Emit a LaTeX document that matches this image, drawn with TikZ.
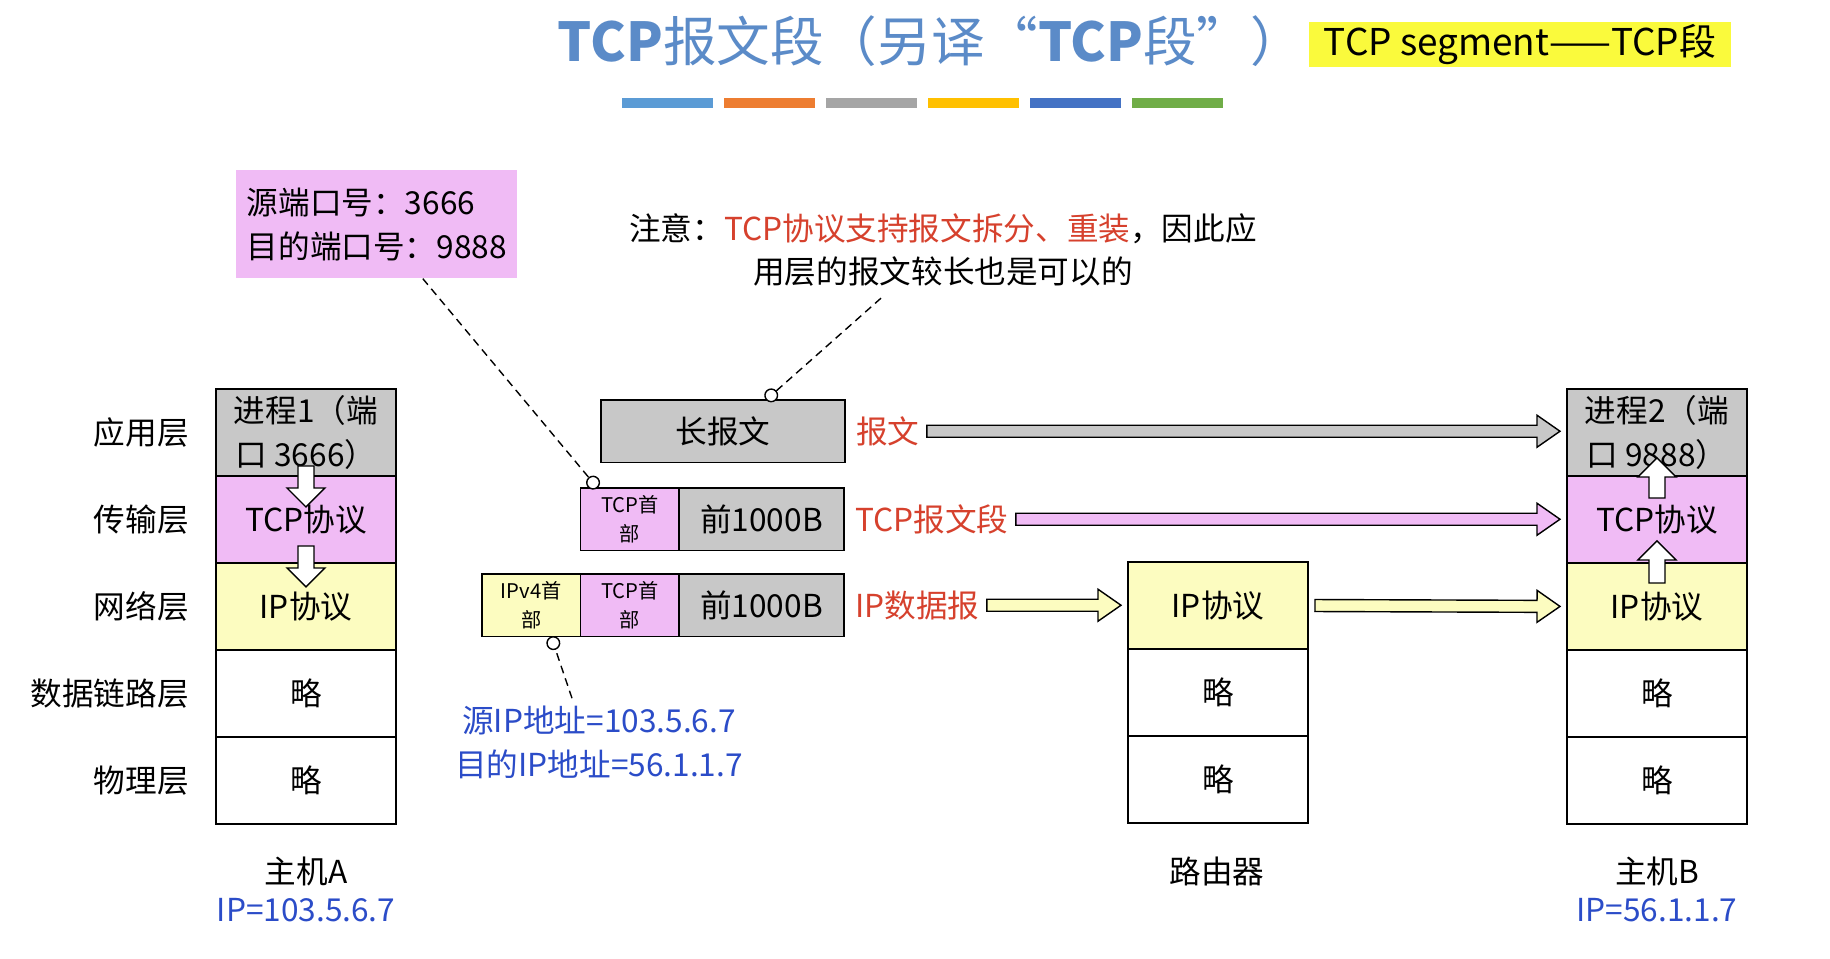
\documentclass[tikz,border=0pt]{standalone}
\usepackage{fontspec}
\setmainfont{Noto Sans CJK SC}
\usepackage{xcolor}
\usetikzlibrary{arrows.meta, positioning, calc}

\definecolor{boxgray}  {RGB}{200,200,200}
\definecolor{tcppink}  {RGB}{240,187,245}
\definecolor{ipyellow} {RGB}{252,252,192}
\definecolor{titleblue}{RGB}{ 91,139,200}
\definecolor{notered}  {RGB}{214, 65, 45}
\definecolor{addrblue} {RGB}{ 43, 76,200}
\definecolor{hlyellow} {RGB}{250,250, 60}
\definecolor{barblue}  {RGB}{ 91,155,213}
\definecolor{barorange}{RGB}{237,125, 49}
\definecolor{bargray}  {RGB}{165,165,165}
\definecolor{bargold}  {RGB}{255,192,  0}
\definecolor{bardblue} {RGB}{ 68,114,196}
\definecolor{bargreen} {RGB}{112,173, 71}

\newcommand{\midsz}{\fontsize{18}{25}\selectfont}
\newcommand{\smlsz}{\fontsize{11.5}{17}\selectfont}
\newcommand{\fashaft}{0.12cm}
\newcommand{\fawing}{0.32cm}
\newcommand{\fahead}{0.46cm}
% hollow block arrow: [gap]{fill}{from}{to}
\newcommand{\fatarrow}[4][0.14cm]{%
  \coordinate (fa-s) at ($(#3)!#1!(#4)$);
  \coordinate (fa-e) at ($(#4)!#1!(#3)$);
  \coordinate (fa-b) at ($(fa-e)!\fahead!(fa-s)$);
  \filldraw[fill=#2, line width=0.8pt, line join=miter]
    ($(fa-s)!\fashaft!90:(fa-e)$) -- ($(fa-b)!\fashaft!-90:(fa-s)$)
    -- ($(fa-b)!\fawing!-90:(fa-s)$) -- (fa-e)
    -- ($(fa-b)!\fawing!90:(fa-s)$) -- ($(fa-b)!\fashaft!90:(fa-s)$)
    -- ($(fa-s)!\fashaft!-90:(fa-e)$) -- cycle;
}

\begin{document}
\begin{tikzpicture}[x=0.02cm, y=-0.02cm,
  layer/.style={rectangle, draw, line width=0.8pt, outer sep=0pt,
    minimum width=3.6cm, minimum height=1.74cm, inner sep=1pt,
    font=\midsz, align=center},
  blk/.style={rectangle, draw, line width=0.8pt, outer sep=0pt,
    minimum height=1.25cm, inner sep=1pt, font=\midsz, align=center},
  hdr/.style={blk, minimum width=1.97cm, font=\smlsz},
  lbl/.style={font=\midsz, inner sep=0pt},
  redlbl/.style={lbl, text=notered, anchor=west},
  addr/.style={lbl, text=addrblue, align=center},
  callout/.style={line width=0.8pt, dash pattern=on 4.5pt off 3pt,
    -{Circle[fill=white, length=0.28cm]}}
]
  \useasboundingbox (0,0) rectangle (1830,959);
  \fill[white] (0,0) rectangle (1830,959);

  % Title
  \node[font=\fontsize{30.5}{36}\selectfont, text=titleblue] (title) at (931,41)
    {\textbf{TCP}报文段（另译“\textbf{TCP}段”）};
  \node[fill=hlyellow, font=\fontsize{21}{24}\selectfont, inner sep=0pt,
    minimum width=8.44cm, minimum height=0.9cm] (segdef) at (1520,45)
    {TCP segment——TCP段};
  \foreach \c [count=\i] in {barblue,barorange,bargray,bargold,bardblue,bargreen}
    \fill[\c] ({520+102*\i},98) rectangle ++(91,10);

  % Host A
  \node[layer, fill=boxgray, anchor=north west] (A-app) at (216,389)
    {进程1（端\\口 3666）};
  \node[layer, fill=tcppink,  below=0pt of A-app]  (A-tcp)  {TCP协议};
  \node[layer, fill=ipyellow, below=0pt of A-tcp]  (A-ip)   {IP协议};
  \node[layer,                below=0pt of A-ip]   (A-link) {略};
  \node[layer,                below=0pt of A-link] (A-phy)  {略};
  \node[lbl, left=0.54cm of A-app]  (L-app)  {应用层};
  \node[lbl, left=0.54cm of A-tcp]  (L-tcp)  {传输层};
  \node[lbl, left=0.54cm of A-ip]   (L-ip)   {网络层};
  \node[lbl, left=0.54cm of A-link] (L-link) {数据链路层};
  \node[lbl, left=0.54cm of A-phy]  (L-phy)  {物理层};
  \node[lbl]  (A-name) at (306,871) {主机A};
  \node[addr] (A-addr) at (306,910) {IP=103.5.6.7};

  % Router
  \node[layer, fill=ipyellow, anchor=north west] (R-ip) at (1128,562) {IP协议};
  \node[layer, below=0pt of R-ip]   (R-link) {略};
  \node[layer, below=0pt of R-link] (R-phy)  {略};
  \node[lbl] (R-name) at (1217,871) {路由器};

  % Host B
  \node[layer, fill=boxgray, anchor=north west] (B-app) at (1567,389)
    {进程2（端\\口 9888）};
  \node[layer, fill=tcppink,  below=0pt of B-app]  (B-tcp)  {TCP协议};
  \node[layer, fill=ipyellow, below=0pt of B-tcp]  (B-ip)   {IP协议};
  \node[layer,                below=0pt of B-ip]   (B-link) {略};
  \node[layer,                below=0pt of B-link] (B-phy)  {略};
  \node[lbl]  (B-name) at (1657,871) {主机B};
  \node[addr] (B-addr) at (1657,910) {IP=56.1.1.7};

  % Message, segment, datagram
  \node[blk, fill=boxgray, minimum width=4.88cm, anchor=north west] (msg)
    at (601,400) {长报文};
  \node[blk, fill=boxgray, minimum width=3.3cm, anchor=north east] (seg-data)
    at (844,488) {前1000B};
  \node[hdr, fill=tcppink, left=0pt of seg-data] (seg-hdr) {TCP首\\部};
  \node[blk, fill=boxgray, minimum width=3.3cm, anchor=north east] (dgm-data)
    at (844,574) {前1000B};
  \node[hdr, fill=tcppink,  left=0pt of dgm-data] (dgm-tcp) {TCP首\\部};
  \node[hdr, fill=ipyellow, left=0pt of dgm-tcp]  (dgm-ip)  {IPv4首\\部};
  \node[redlbl, right=0.22cm of msg]      (msg-lbl) {报文};
  \node[redlbl, right=0.22cm of seg-data] (seg-lbl) {TCP报文段};
  \node[redlbl, right=0.22cm of dgm-data] (dgm-lbl) {IP数据报};

  % Notes
  \node[fill=tcppink, font=\midsz, align=left, inner sep=0pt,
    minimum width=5.62cm, minimum height=2.16cm, anchor=north west]
    (port-note) at (236,170) {源端口号：3666\\目的端口号：9888};
  \node[lbl, align=center] (caution) at (943,250)
    {注意：\textcolor{notered}{TCP协议支持报文拆分、重装}，因此应\\用层的报文较长也是可以的};
  \node[addr] (ip-note) at (599,742) {源IP地址=103.5.6.7\\目的IP地址=56.1.1.7};

  \draw[callout] ($(port-note.south)+(46,0)$) -- ($(seg-hdr.north west)+(17,0)$);
  \draw[callout] ($(caution.south)+(-62,11)$) -- ($(msg.north west)+(165,0)$);
  \draw[callout] ($(ip-note.north)+(-27,-7)$) -- ($(dgm-ip.south west)+(69,0)$);

  % Arrows
  \fatarrow{boxgray}{msg-lbl.east}{B-app.west |- msg-lbl.east}
  \fatarrow{tcppink}{seg-lbl.east}{B-tcp.west |- seg-lbl.east}
  \fatarrow{ipyellow}{dgm-lbl.east}{R-ip.west |- dgm-lbl.east}
  \fatarrow{ipyellow}{R-ip.east}{B-ip.west}

  \coordinate (A-d1s) at ($(A-app.south)+(0,-10)$);
  \coordinate (A-d1e) at ($(A-app.south)+(0,31)$);
  \coordinate (A-d2s) at ($(A-tcp.south)+(0,-17)$);
  \coordinate (A-d2e) at ($(A-tcp.south)+(0,24)$);
  \coordinate (B-u1s) at ($(B-app.south)+(0,22)$);
  \coordinate (B-u1e) at ($(B-app.south)+(0,-18)$);
  \coordinate (B-u2s) at ($(B-tcp.south)+(0,20)$);
  \coordinate (B-u2e) at ($(B-tcp.south)+(0,-22)$);
  {\renewcommand{\fashaft}{0.16cm}\renewcommand{\fawing}{0.38cm}%
   \renewcommand{\fahead}{0.38cm}%
   \fatarrow[0pt]{white}{A-d1s}{A-d1e}
   \fatarrow[0pt]{white}{A-d2s}{A-d2e}
   \fatarrow[0pt]{white}{B-u1s}{B-u1e}
   \fatarrow[0pt]{white}{B-u2s}{B-u2e}}
\end{tikzpicture}
\end{document}
